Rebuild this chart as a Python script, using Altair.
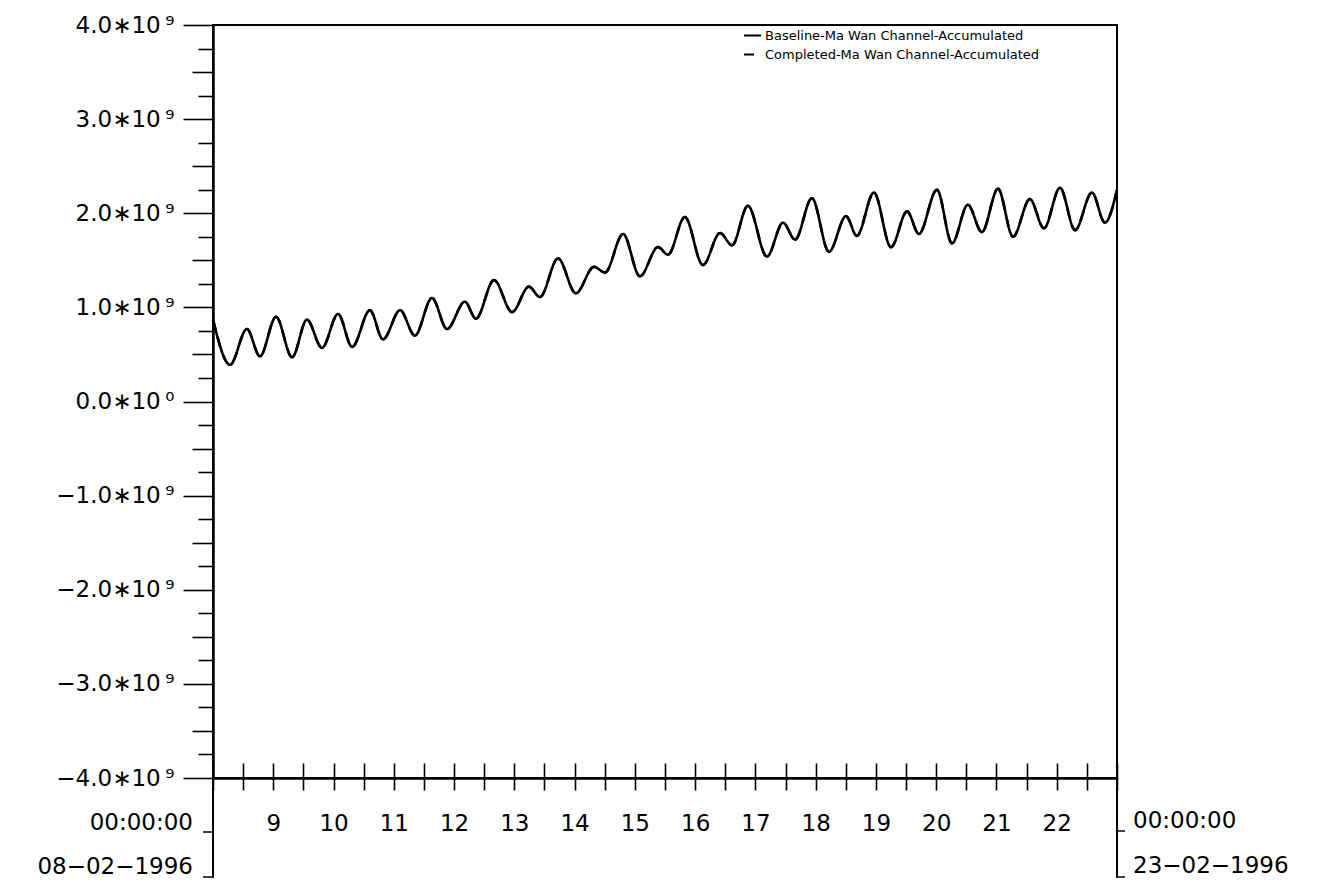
import altair as alt
import pandas as pd

# ---- data (hours after 08-02-1996 00:00, values in 1e9) ----
hours = [0, 6.8, 13.5, 18.7, 25.1, 31.5, 37.4, 43.4, 49.8, 55.4, 62.5, 67.7,
         74.5, 80.4, 87.2, 93.2, 100.3, 104.7, 111.9, 119.1, 125.8, 130.2, 137.4, 144.5,
         151.7, 156.1, 163.3, 170.0, 177.2, 181.2, 187.9, 195.1, 201.9, 206.7, 213.0, 220.6,
         227.0, 231.8, 238.5, 245.3, 252.1, 256.4, 263.2, 270.0, 276.4, 281.1, 288.3, 294.3,
         300.6, 306.2, 312.6, 318.6, 325.3, 330.9, 337.3, 343.3, 350.0, 355.2, 360]
baseline_e9 = [0.87, 0.39, 0.77, 0.48, 0.90, 0.47, 0.87, 0.57, 0.93, 0.58, 0.97, 0.66,
               0.97, 0.70, 1.10, 0.77, 1.06, 0.88, 1.29, 0.95, 1.22, 1.11, 1.52, 1.15,
               1.43, 1.37, 1.78, 1.33, 1.64, 1.56, 1.96, 1.45, 1.79, 1.66, 2.08, 1.54,
               1.90, 1.72, 2.16, 1.59, 1.97, 1.76, 2.22, 1.64, 2.02, 1.78, 2.25, 1.68,
               2.09, 1.80, 2.26, 1.75, 2.15, 1.84, 2.27, 1.82, 2.22, 1.90, 2.25]
completed_e9 = list(baseline_e9)

series_names = ["Baseline-Ma Wan Channel-Accumulated",
                "Completed-Ma Wan Channel-Accumulated"]

x_tick_values = list(range(0, 361, 12))
y_tick_values = [i * 2.5e8 for i in range(-16, 17)]
first_day = 8
end_hours = [0, 360]
end_times = ["00:00:00", "00:00:00"]
end_dates = ["08\u221202\u22121996", "23\u221202\u22121996"]

rows = []
for name, vals in zip(series_names, [baseline_e9, completed_e9]):
    for h, v in zip(hours, vals):
        rows.append({"hours": h, "value": v * 1e9, "series": name})
df = pd.DataFrame(rows)
ends = pd.DataFrame({"hours": end_hours, "time": end_times, "date": end_dates})

W, H = 904, 753
FONT = "DejaVu Sans"
x_scale = alt.Scale(domain=[0, 360], nice=False, zero=False)
y_scale = alt.Scale(domain=[-4e9, 4e9], nice=False, zero=False)

x_label_expr = (f"(datum.value % 24 == 0 && datum.value > 0 && datum.value < 360) ? "
                f"toString({first_day} + datum.value / 24) : ''")
y_label_expr = ("abs(datum.value) % 1000000000 == 0 ? "
                "((datum.value < 0 ? '\u2212' : '') + format(abs(datum.value) / 1e9, '.1f') + "
                "'\u221710\u2009' + (datum.value == 0 ? '\u2070' : '\u2079')) : ''")

legend = alt.Legend(title=None, orient="none", legendX=530, legendY=1,
                    labelFont=FONT, labelFontSize=13, labelColor="black", labelLimit=600,
                    symbolSize=289, symbolStrokeWidth=2, labelOffset=3,
                    rowPadding=2, padding=0, symbolStrokeColor="black")

lines = alt.Chart(df).mark_line(interpolate="monotone", strokeWidth=2.6).encode(
    x=alt.X("hours:Q", scale=x_scale, axis=alt.Axis(
        values=x_tick_values, labelExpr=x_label_expr, tickSize=12, tickWidth=1.6,
        tickColor="black", domainColor="black", domainWidth=2.5, grid=False, title=None,
        labelFont=FONT, labelFontSize=23, labelColor="black", labelPadding=22,
        labelAngle=0, labelFlush=False, labelOverlap=False)),
    y=alt.Y("value:Q", scale=y_scale, axis=alt.Axis(
        values=y_tick_values, labelExpr=y_label_expr,
        tickSize={"condition": [
            {"test": "abs(datum.value) % 1000000000 == 0", "value": 30},
            {"test": "abs(datum.value) % 500000000 == 0", "value": 21}],
            "value": 15},
        tickWidth=1.6, tickColor="black", domainColor="black", domainWidth=2.5,
        grid=False, title=None, labelFont=FONT, labelFontSize=23, labelColor="black",
        labelPadding=9, labelOverlap=False, labelFlush=False, labelBound=False)),
    color=alt.Color("series:N", scale=alt.Scale(domain=series_names, range=["black", "black"]),
                    legend=legend),
    strokeDash=alt.StrokeDash("series:N", scale=alt.Scale(domain=series_names,
                                                          range=[[1, 0], [10, 8]]),
                              legend=legend),
)

# inner halves of the crossing x ticks
inner_ticks = alt.Chart(ends).mark_rule(opacity=0).encode(
    x=alt.X("hours:Q", scale=x_scale, axis=alt.Axis(
        orient="top", offset=-H, values=x_tick_values, tickSize=15, tickWidth=1.6,
        tickColor="black", labels=False, domain=False, grid=False, title=None)),
)

# vertical extensions below the x axis at both ends
ext = alt.Chart(ends).mark_rule(strokeWidth=2, color="black").encode(
    x=alt.X("hours:Q", scale=x_scale, axis=None),
    y=alt.value(H), y2=alt.value(H + 100),
)

def hook(x1, x2, y):
    return alt.Chart(ends.head(1)).mark_rule(strokeWidth=1.5, color="black").encode(
        x=alt.value(x1), x2=alt.value(x2), y=alt.value(y))

hooks = [hook(-10, 0, H + 54), hook(-10, 0, H + 99),
         hook(W, W + 8, H + 53), hook(W, W + 8, H + 99)]

left_text = alt.Chart(ends).transform_filter("datum.hours == 0")
right_text = alt.Chart(ends).transform_filter("datum.hours == 360")
text_style = dict(font=FONT, fontSize=23, color="black", baseline="middle")

texts = [
    left_text.mark_text(align="right", dx=-20, **text_style).encode(
        x=alt.X("hours:Q", scale=x_scale, axis=None), y=alt.value(H + 45), text="time:N"),
    left_text.mark_text(align="right", dx=-20, **text_style).encode(
        x=alt.X("hours:Q", scale=x_scale, axis=None), y=alt.value(H + 89), text="date:N"),
    right_text.mark_text(align="left", dx=16, **text_style).encode(
        x=alt.X("hours:Q", scale=x_scale, axis=None), y=alt.value(H + 43), text="time:N"),
    right_text.mark_text(align="left", dx=16, **text_style).encode(
        x=alt.X("hours:Q", scale=x_scale, axis=None), y=alt.value(H + 88), text="date:N"),
]

chart = alt.layer(lines, inner_ticks, ext, *hooks, *texts).resolve_axis(
    x="independent"
).properties(
    width=W, height=H,
    autosize=alt.AutoSizeParams(type="none"),
    padding={"left": 205, "top": 17, "right": 212, "bottom": 108},
    background="white",
).configure_view(stroke="black", strokeWidth=2)

chart.save("out.html", embed_options={"renderer": "svg", "actions": False})
